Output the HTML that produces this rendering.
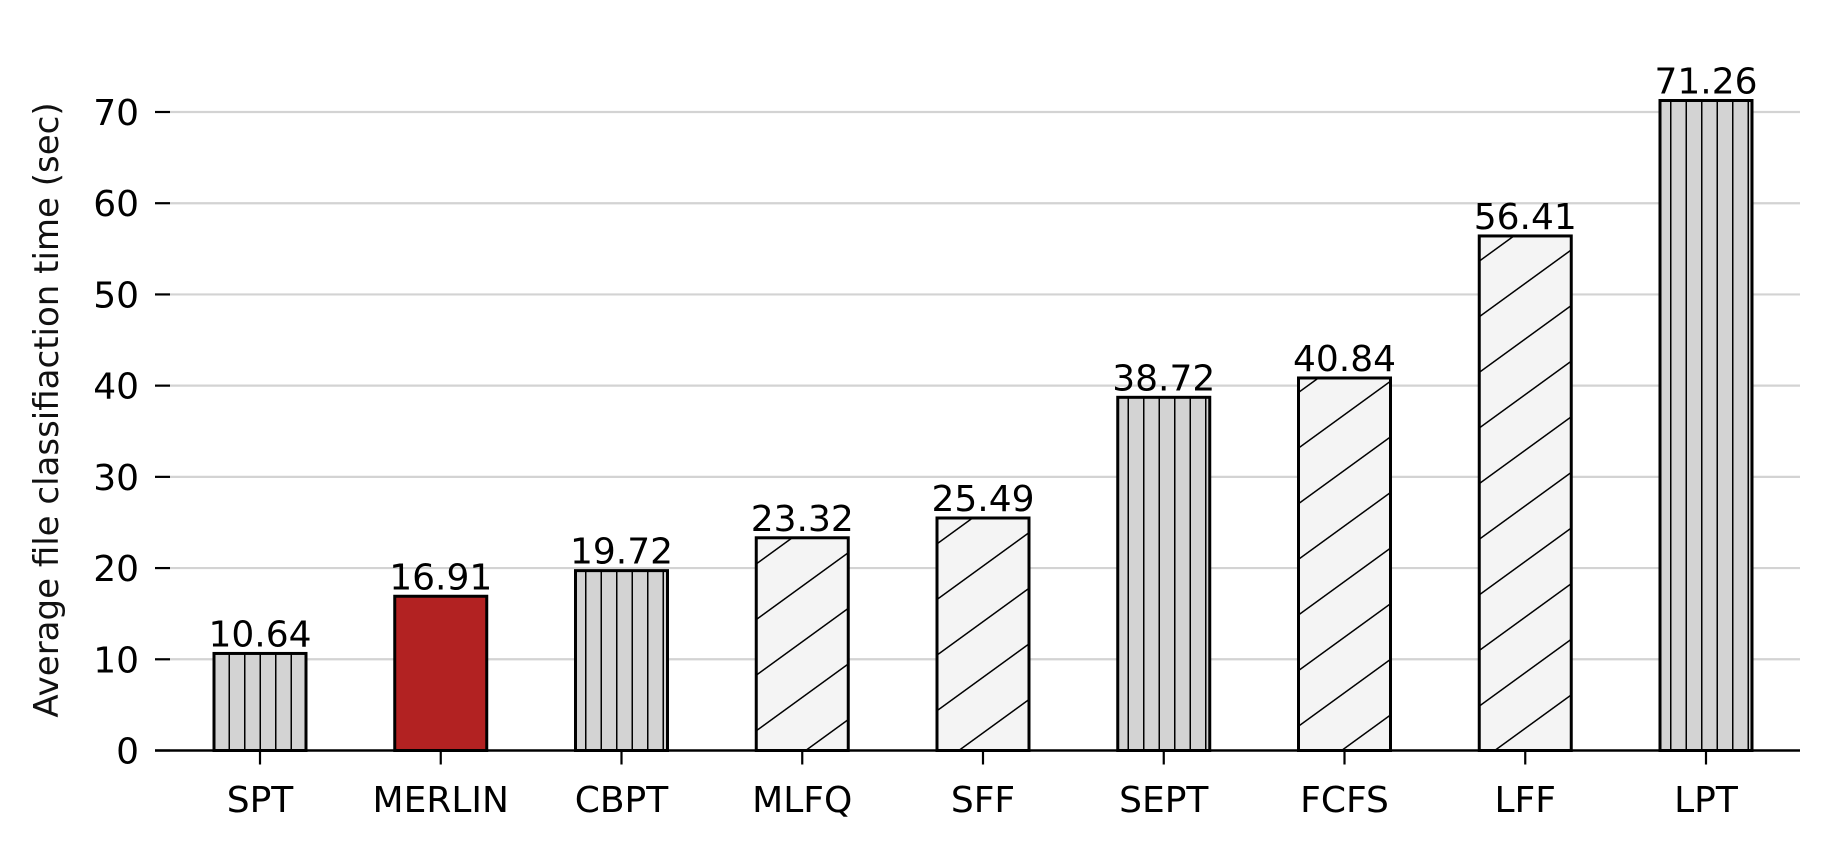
<!DOCTYPE html>
<html><head><meta charset="utf-8"><style>
html,body{margin:0;padding:0;background:#fff;}
svg{display:block;font-family:"DejaVu Sans","Liberation Sans",sans-serif;}
</style></head><body>
<svg id="chart" width="1829" height="846" viewBox="0 0 1829 846">
<defs>
<pattern id="vhatch" patternUnits="userSpaceOnUse" width="15.5" height="20" x="213">
<rect width="15.5" height="20" fill="#d3d3d3"/>
<line x1="0" y1="0" x2="0" y2="20" stroke="#000" stroke-width="3"/>
</pattern>
<pattern id="dhatch" patternUnits="userSpaceOnUse" width="45" height="45" patternTransform="rotate(-36)">
<rect width="45" height="45" fill="#f4f4f4"/>
<line x1="0" y1="0" x2="45" y2="0" stroke="#000" stroke-width="3"/>
</pattern>
</defs>
<g id="grid"></g>
<g id="bars"></g>
<g id="axes"></g>
<text transform="translate(58,410) rotate(-90)" text-anchor="middle" font-size="34" fill="#111">Average file classifiaction time (sec)</text>
</svg>
<script>
const categories = ["SPT","MERLIN","CBPT","MLFQ","SFF","SEPT","FCFS","LFF","LPT"];
const values = [10.64,16.91,19.72,23.32,25.49,38.72,40.84,56.41,71.26];
const styles = ["v","red","v","d","d","v","d","d","v"];
const yTicks = [0,10,20,30,40,50,60,70];
const labels = ["10.64","16.91","19.72","23.32","25.49","38.72","40.84","56.41","71.26"];

const NS = "http://www.w3.org/2000/svg";
const y0 = 750.5, pxPer = (750.5 - 112) / 70;
const yS = v => y0 - v * pxPer;
const xS = i => 260 + i * 180.75;
const bw = 92;
function mk(tag, attrs, parent){const e=document.createElementNS(NS,tag);for(const k in attrs)e.setAttribute(k,attrs[k]);parent.appendChild(e);return e;}
const grid=document.getElementById('grid'), bars=document.getElementById('bars'), axes=document.getElementById('axes');
yTicks.forEach(t=>{
  const y=yS(t);
  if(t>0){const g=mk('line',{x1:170,x2:1800,y1:y,y2:y,stroke:'#d3d3d3','stroke-width':2.2},grid);
  
  }
  const tk=mk('line',{x1:155,x2:170,y1:y,y2:y,stroke:'#000','stroke-width':2.2},axes);
  
  
  const tx=mk('text',{x:139,y:y+13,'text-anchor':'end','font-size':36,fill:'#000'},axes);
  tx.textContent=t;
  
  
});
categories.forEach((c,i)=>{
  const x=xS(i), top=yS(values[i]);
  const fill = styles[i]==='red' ? '#b22222' : styles[i]==='v' ? 'url(#vhatch)' : 'url(#dhatch)';
  const r=mk('rect',{x:x-bw/2,y:top,width:bw,height:y0-top,fill:fill,stroke:'#000','stroke-width':3},bars);
  
  
  const lb=mk('text',{x:x,y:top-7,'text-anchor':'middle','font-size':36,fill:'#000'},bars);
  lb.textContent=labels[i];
  
  
  const tk=mk('line',{x1:x,x2:x,y1:y0,y2:y0+14,stroke:'#000','stroke-width':2.2},axes);
  
  
  const tl=mk('text',{x:x,y:812,'text-anchor':'middle','font-size':36,fill:'#000'},axes);
  tl.textContent=c;
  
  
});
const ax=mk('line',{x1:155,x2:1800,y1:y0,y2:y0,stroke:'#000','stroke-width':2.4},axes);


</script>
</body></html>
